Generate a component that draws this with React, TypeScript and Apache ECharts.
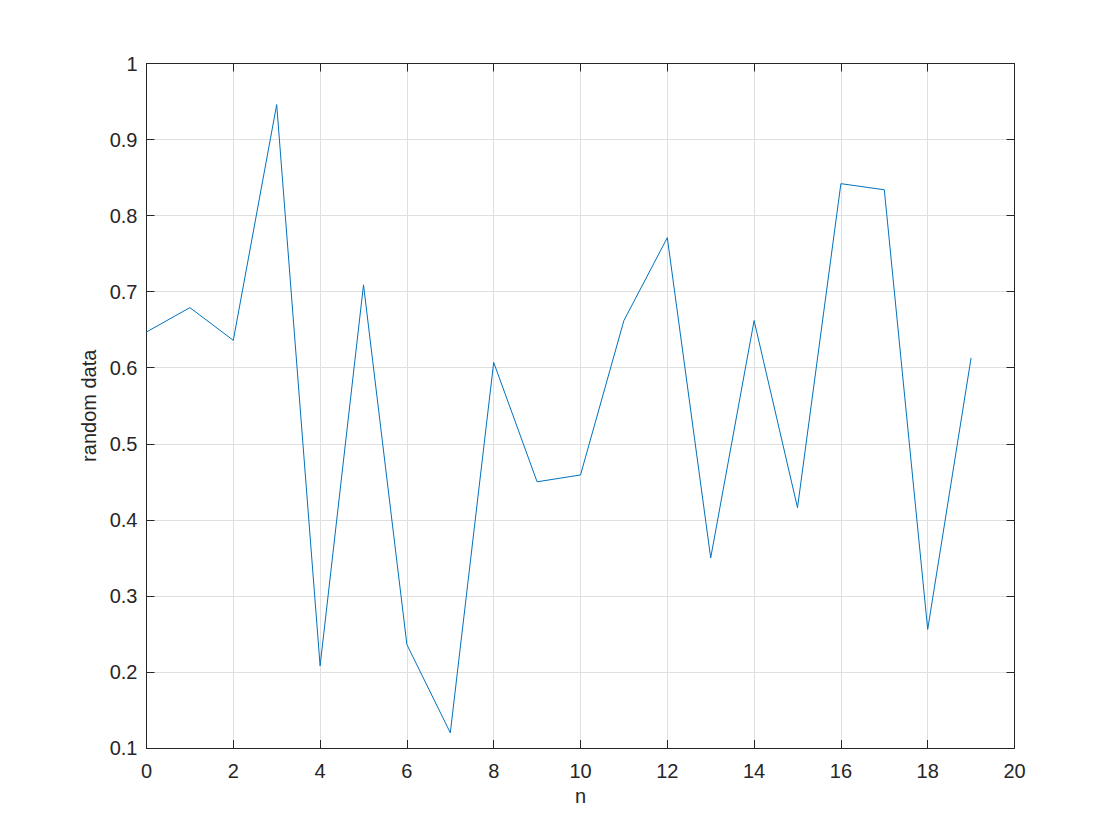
import React, { useEffect, useRef } from "react";
import * as echarts from "echarts";

const nValues = [0, 1, 2, 3, 4, 5, 6, 7, 8, 9, 10, 11, 12, 13, 14, 15, 16, 17, 18, 19];
const randomData = [
  0.647, 0.679, 0.636, 0.946, 0.208, 0.709, 0.236, 0.12, 0.607, 0.45,
  0.459, 0.662, 0.771, 0.35, 0.662, 0.416, 0.842, 0.834, 0.256, 0.613,
];
const xLabelName = "n";
const yLabelName = "random data";

const FONT = "'Liberation Sans', Arial, Helvetica, sans-serif";
const TXT = "#262626";
const AX = "#262626";
const GRID = "#dfdfdf";

export default function App() {
  const ref = useRef<HTMLDivElement>(null);
  useEffect(() => {
    if (!ref.current) return;
    const chart = echarts.init(ref.current, undefined, { renderer: "svg" });
    const fmt = (v: number) => String(+v.toFixed(1));
    chart.setOption({
      animation: false,
      backgroundColor: "#ffffff",
      grid: { left: 146.5, right: 105.5, top: 63.5, bottom: 92, containLabel: false },
      xAxis: [
        {
          type: "value",
          position: "bottom",
          min: 0,
          max: 20,
          interval: 2,
          name: xLabelName,
          nameLocation: "middle",
          nameGap: 36,
          nameTextStyle: { fontFamily: FONT, fontSize: 20, color: TXT },
          axisLine: { show: true, onZero: false, lineStyle: { color: AX, width: 1 } },
          axisTick: { show: true, inside: true, length: 8, lineStyle: { color: AX } },
          axisLabel: { fontFamily: FONT, fontSize: 20, color: TXT, margin: 13, formatter: fmt },
          splitLine: { show: true, lineStyle: { color: GRID, width: 1 } },
        },
        {
          type: "value",
          position: "top",
          min: 0,
          max: 20,
          interval: 2,
          axisLine: { show: true, onZero: false, lineStyle: { color: AX, width: 1 } },
          axisTick: { show: true, inside: true, length: 8, lineStyle: { color: AX } },
          axisLabel: { show: false },
          splitLine: { show: false },
        },
      ],
      yAxis: [
        {
          type: "value",
          position: "left",
          min: 0.1,
          max: 1,
          interval: 0.1,
          name: yLabelName,
          nameLocation: "middle",
          nameGap: 44,
          nameTextStyle: { fontFamily: FONT, fontSize: 20, color: TXT },
          axisLine: { show: true, onZero: false, lineStyle: { color: AX, width: 1 } },
          axisTick: { show: true, inside: true, length: 8, lineStyle: { color: AX } },
          axisLabel: { fontFamily: FONT, fontSize: 20, color: TXT, margin: 9, formatter: fmt },
          splitLine: { show: true, lineStyle: { color: GRID, width: 1 } },
        },
        {
          type: "value",
          position: "right",
          min: 0.1,
          max: 1,
          interval: 0.1,
          axisLine: { show: true, onZero: false, lineStyle: { color: AX, width: 1 } },
          axisTick: { show: true, inside: true, length: 8, lineStyle: { color: AX } },
          axisLabel: { show: false },
          splitLine: { show: false },
        },
      ],
      series: [
        {
          type: "line",
          xAxisIndex: 0,
          yAxisIndex: 0,
          data: nValues.map((n, i) => [n, randomData[i]]),
          showSymbol: false,
          symbol: "none",
          lineStyle: { color: "#0072BD", width: 1 },
        },
      ],
    });
    return () => chart.dispose();
  }, []);
  return (
    <div
      ref={ref}
      style={{ position: "absolute", left: 0, top: 0, width: 1120, height: 840 }}
    />
  );
}
